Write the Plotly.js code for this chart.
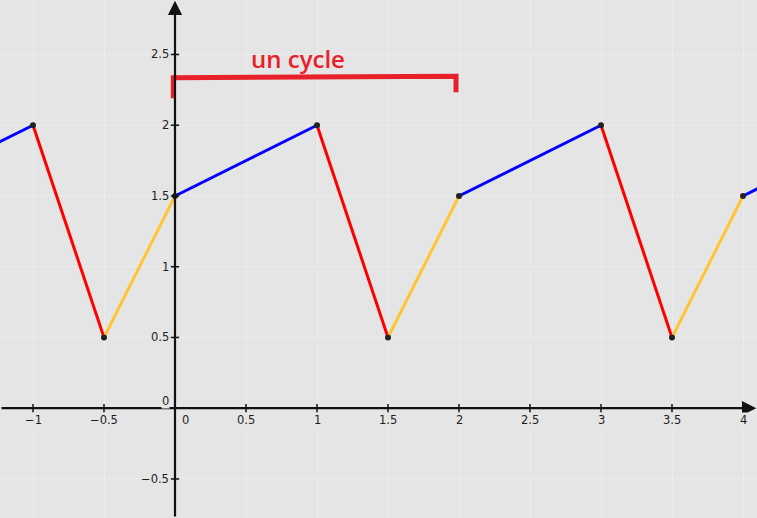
<!DOCTYPE html>
<html>
<head>
<meta charset="utf-8">
<script src="https://cdn.plot.ly/plotly-3.0.1.min.js"></script>
<style>html,body{margin:0;padding:0;background:#e5e5e5;}#chart{width:757px;height:518px;}</style>
</head>
<body>
<div id="chart"></div>
<script>
// Piecewise periodic function, period 2
const blueX = [-2, -1, null, 0, 1, null, 2, 3, null, 4, 5];
const blueY = [1.5, 2, null, 1.5, 2, null, 1.5, 2, null, 1.5, 2];
const redX = [-1, -0.5, null, 1, 1.5, null, 3, 3.5];
const redY = [2, 0.5, null, 2, 0.5, null, 2, 0.5];
const yellowX = [-0.5, 0, null, 1.5, 2, null, 3.5, 4];
const yellowY = [0.5, 1.5, null, 0.5, 1.5, null, 0.5, 1.5];
const pointsX = [-1, -0.5, 0, 1, 1.5, 2, 3, 3.5, 4];
const pointsY = [2, 0.5, 1.5, 2, 0.5, 1.5, 2, 0.5, 1.5];

// Ticks
const xTickVals = [-1, -0.5, 0, 0.5, 1, 1.5, 2, 2.5, 3, 3.5, 4];
const xTickText = ["-1", "-0.5", "0", "0.5", "1", "1.5", "2", "2.5", "3", "3.5", "4"];
const yTickVals = [-0.5, 0, 0.5, 1, 1.5, 2, 2.5];
const yTickText = ["-0.5", "0", "0.5", "1", "1.5", "2", "2.5"];

// "un cycle" bracket
const bracketX = [-0.012, -0.012, 1.979, 1.979];
const bracketY = [2.19, 2.336, 2.346, 2.233];
const bracketLabel = "un cycle";
const bracketLabelPos = [0.866, 2.47];

const xRange = [-1.2324, 4.0986];
const yRange = [-0.776, 2.885];

const minus = s => s.replace('-', '\u2212');

const traces = [
  {x: blueX, y: blueY, mode: 'lines', line: {color: '#0000ff', width: 3}, hoverinfo: 'skip'},
  {x: redX, y: redY, mode: 'lines', line: {color: '#ff0000', width: 3}, hoverinfo: 'skip'},
  {x: yellowX, y: yellowY, mode: 'lines', line: {color: '#ffc537', width: 3}, hoverinfo: 'skip'},
  {x: pointsX, y: pointsY, mode: 'markers', marker: {color: '#222222', size: 6}, hoverinfo: 'skip'},
  {x: bracketX, y: bracketY, mode: 'lines', line: {color: '#e8202a', width: 5}, hoverinfo: 'skip'},
  // tick marks
  {x: xTickVals.filter(v => v !== 0), y: xTickVals.filter(v => v !== 0).map(() => 0), mode: 'markers',
   marker: {symbol: 'line-ns', size: 6, line: {color: '#111', width: 1.5}}, hoverinfo: 'skip'},
  {x: yTickVals.filter(v => v !== 0).map(() => 0), y: yTickVals.filter(v => v !== 0), mode: 'markers',
   marker: {symbol: 'line-ew', size: 6, line: {color: '#111', width: 1.5}}, hoverinfo: 'skip'}
];

const annotations = [];
// axes with arrows
annotations.push({x: xRange[1] - 0.005, y: 0, ax: xRange[0], ay: 0, xref: 'x', yref: 'y', axref: 'x', ayref: 'y',
  showarrow: true, arrowhead: 2, arrowsize: 1.3, arrowwidth: 2.2, arrowcolor: '#111', text: ''});
annotations.push({x: 0, y: yRange[1] - 0.005, ax: 0, ay: yRange[0], xref: 'x', yref: 'y', axref: 'x', ayref: 'y',
  showarrow: true, arrowhead: 2, arrowsize: 1.3, arrowwidth: 2.2, arrowcolor: '#111', text: ''});

xTickVals.forEach((v, i) => {
  annotations.push({x: v, y: 0, xref: 'x', yref: 'y', text: minus(xTickText[i]), showarrow: false,
    xanchor: 'center', yanchor: 'middle', yshift: -12, xshift: v === 0 ? 10 : 0,
    font: {family: 'DejaVu Sans', size: 11.5, color: '#1e1e1e'}, bgcolor: '#e5e5e5', borderpad: 0});
});
yTickVals.forEach((v, i) => {
  annotations.push({x: 0, y: v, xref: 'x', yref: 'y', text: minus(yTickText[i]), showarrow: false,
    xanchor: 'right', yanchor: 'middle', xshift: -5, yshift: v === 0 ? 7 : 0,
    font: {family: 'DejaVu Sans', size: 11.5, color: '#1e1e1e'}, bgcolor: '#e5e5e5', borderpad: 0});
});
annotations.push({x: bracketLabelPos[0], y: bracketLabelPos[1], xref: 'x', yref: 'y', text: bracketLabel,
  showarrow: false, xanchor: 'center', yanchor: 'middle',
  font: {family: 'Open Sans', size: 24, color: '#e8202a', weight: 600}});

const layout = {
  width: 757, height: 518, autosize: false,
  margin: {l: 0, r: 0, t: 0, b: 0, pad: 0},
  paper_bgcolor: '#e5e5e5', plot_bgcolor: '#e5e5e5',
  showlegend: false,
  xaxis: {range: xRange, dtick: 0.5, tick0: 0, showgrid: true, gridcolor: '#ececec', gridwidth: 1,
    zeroline: false, showticklabels: false, ticks: '', showline: false, fixedrange: true},
  yaxis: {range: yRange, dtick: 0.5, tick0: 0, showgrid: true, gridcolor: '#ececec', gridwidth: 1,
    zeroline: false, showticklabels: false, ticks: '', showline: false, fixedrange: true},
  annotations: annotations
};

Plotly.newPlot('chart', traces, layout, {displayModeBar: false, staticPlot: true});
</script>
</body>
</html>
